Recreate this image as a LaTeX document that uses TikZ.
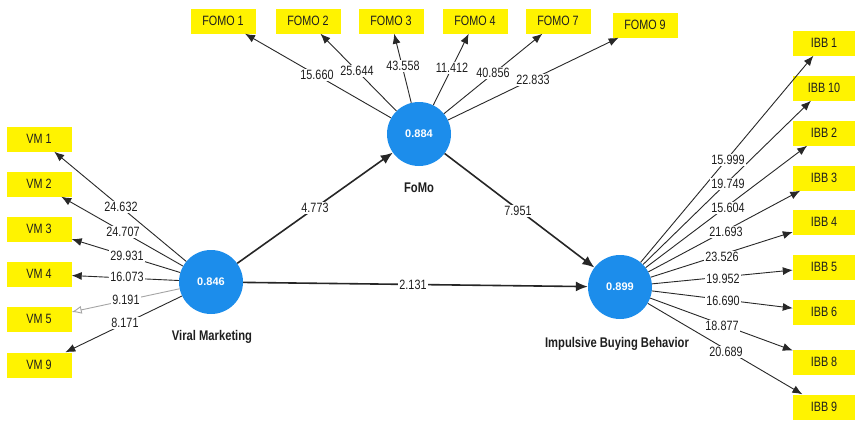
\documentclass[tikz,border=0pt]{standalone}
\usepackage{fontspec}
\setmainfont{Liberation Sans}
\newfontfamily\narrowfont[FakeStretch=0.8]{Liberation Sans}
\usetikzlibrary{arrows.meta}

\definecolor{boxyellow}{RGB}{255,243,0}
\definecolor{lvblue}{RGB}{28,141,235}
\definecolor{linec}{RGB}{40,40,40}
\definecolor{txt}{RGB}{30,30,30}
\definecolor{weakc}{RGB}{165,165,165}

\begin{document}
\begin{tikzpicture}[x=1pt,y=-1pt,
  item/.style={fill=boxyellow, minimum width=65pt, minimum height=25pt, inner sep=0pt,
    text=txt, font=\narrowfont\fontsize{13.5}{13.5}\selectfont},
  latent/.style={circle, fill=lvblue, minimum size=64pt, inner sep=0pt,
    text=white, font=\bfseries\fontsize{11}{11}\selectfont},
  lvname/.style={text=txt, font=\narrowfont\bfseries\fontsize{14}{14}\selectfont},
  coef/.style={fill=white, inner sep=1pt, text=txt, font=\narrowfont\fontsize{13.5}{13.5}\selectfont},
  load/.style={draw=linec, line width=0.9pt, -{Latex[length=10pt,width=8pt]}},
  weakload/.style={draw=weakc, line width=0.9pt, -{Latex[length=10pt,width=8pt,open]}},
  rel/.style={draw=black!85, line width=1.6pt, -{Latex[length=12pt,width=10pt]}}]

\useasboundingbox[fill=white] (0,0) rectangle (855,421);

% latent variables
\node[latent] (vm)  at (211,282) {0.846};
\node[latent] (fomo) at (419,134) {0.884};
\node[latent] (ibb) at (620,287) {0.899};

\node[lvname] (vmname)   at (212,337) {Viral Marketing};
\node[lvname] (fomoname) at (419,188) {FoMo};
\node[lvname] (ibbname)  at (617,344) {Impulsive Buying Behavior};

% FoMo indicators
\node[item] (f1) at (223,21) {FOMO 1};
\node[item] (f2) at (308,21) {FOMO 2};
\node[item] (f3) at (391,21) {FOMO 3};
\node[item] (f4) at (475,21) {FOMO 4};
\node[item] (f7) at (558,21) {FOMO 7};
\node[item] (f9) at (645,25) {FOMO 9};

% Viral Marketing indicators
\node[item] (v1) at (39,139) {VM 1};
\node[item] (v2) at (39,184) {VM 2};
\node[item] (v3) at (39,229) {VM 3};
\node[item] (v4) at (39,274) {VM 4};
\node[item] (v5) at (39,319) {VM 5};
\node[item] (v9) at (39,365) {VM 9};

% Impulsive Buying Behavior indicators
\node[item, minimum width=62pt] (b1)  at (824,43)  {IBB 1};
\node[item, minimum width=62pt] (b10) at (824,88)  {IBB 10};
\node[item, minimum width=62pt] (b2)  at (824,133) {IBB 2};
\node[item, minimum width=62pt] (b3)  at (824,178) {IBB 3};
\node[item, minimum width=62pt] (b4)  at (824,222) {IBB 4};
\node[item, minimum width=62pt] (b5)  at (824,267) {IBB 5};
\node[item, minimum width=62pt] (b6)  at (824,312) {IBB 6};
\node[item, minimum width=62pt] (b8)  at (824,362) {IBB 8};
\node[item, minimum width=62pt] (b9)  at (824,407) {IBB 9};

% outer loadings
\foreach \t in {f1,f2,f3,f4,f7,f9} \draw[load] (fomo) -- (\t);
\foreach \t in {v1,v2,v3,v4,v9} \draw[load] (vm) -- (\t);
\draw[weakload] (vm) -- (v5);
\foreach \t in {b1,b10,b2,b3,b4,b5,b6,b8,b9} \draw[load] (ibb) -- (\t);

% structural paths
\draw[rel] (vm) -- (fomo);
\draw[rel] (fomo) -- (ibb);
\draw[rel] (vm) -- (ibb);

% t-values
\node[coef] (tf1) at (317,75) {15.660};
\node[coef] (tf2) at (357,71) {25.644};
\node[coef] (tf3) at (403,66) {43.558};
\node[coef] (tf4) at (452,68) {11.412};
\node[coef] (tf7) at (493,73) {40.856};
\node[coef] (tf9) at (533,80) {22.833};

\node[coef] (tv1) at (121,207) {24.632};
\node[coef] (tv2) at (123,232) {24.707};
\node[coef] (tv3) at (127,256) {29.931};
\node[coef] (tv4) at (127,277) {16.073};
\node[coef] (tv5) at (126,300) {9.191};
\node[coef] (tv9) at (125,323) {8.171};

\node[coef] (tb1)  at (728,160) {15.999};
\node[coef] (tb10) at (728,184) {19.749};
\node[coef] (tb2)  at (728,208) {15.604};
\node[coef] (tb3)  at (726,232) {21.693};
\node[coef] (tb4)  at (722,257) {23.526};
\node[coef] (tb5)  at (723,279) {19.952};
\node[coef] (tb6)  at (723,301) {16.690};
\node[coef] (tb8)  at (722,326) {18.877};
\node[coef] (tb9)  at (726,352) {20.689};

\node[coef] (tvf) at (315,208) {4.773};
\node[coef] (tfi) at (518,211) {7.951};
\node[coef] (tvi) at (413,285) {2.131};
\end{tikzpicture}
\end{document}
